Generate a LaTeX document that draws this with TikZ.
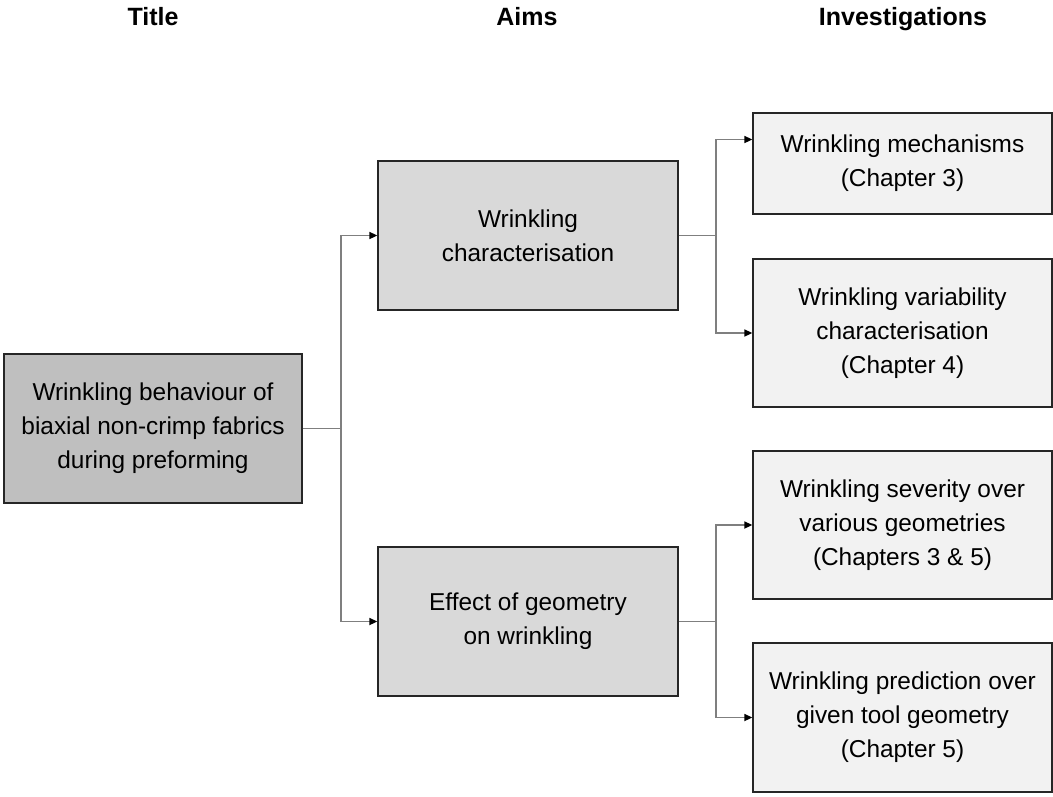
\documentclass[tikz,border=0pt]{standalone}
\usepackage{fontspec}
\setmainfont{Liberation Sans}
\usetikzlibrary{arrows.meta}
\definecolor{titlefill}{HTML}{BFBFBF}
\definecolor{aimfill}{HTML}{D9D9D9}
\definecolor{invfill}{HTML}{F2F2F2}
\definecolor{edgecol}{HTML}{262626}
\definecolor{linecol}{HTML}{7F7F7F}
\begin{document}
\begin{tikzpicture}[x=1pt,y=-1pt,
  box/.style={draw=edgecol,line width=1.3pt,inner sep=0pt,align=center,
    font=\fontsize{24.4}{34}\selectfont},
  titlebox/.style={box,fill=titlefill,minimum width=298pt,minimum height=149pt},
  aimbox/.style={box,fill=aimfill,minimum width=300pt,minimum height=149pt},
  invbox/.style={box,fill=invfill,minimum width=299pt,minimum height=148pt},
  head/.style={font=\fontsize{25}{30}\selectfont\bfseries,inner sep=0pt,anchor=base},
  conn/.style={draw=linecol,line width=1.6pt},
  arr/.style={conn,-{Triangle[length=8pt,width=7pt,fill=black,color=black]}}]
\useasboundingbox (0,0) rectangle (1053,796);
\node[head] (h1) at (153,25) {Title};
\node[head] (h2) at (527,25) {Aims};
\node[head] (h3) at (903,25) {Investigations};

\node[titlebox] (t) at (153,428.5) {Wrinkling behaviour of\\biaxial non-crimp fabrics\\during preforming};
\node[aimbox] (a1) at (528,235.5) {Wrinkling\\characterisation};
\node[aimbox] (a2) at (528,621.5) {Effect of geometry\\on wrinkling};
\node[invbox,minimum height=101pt] (i1) at (902.5,163.5) {Wrinkling mechanisms\\(Chapter 3)};
\node[invbox] (i2) at (902.5,333) {Wrinkling variability\\characterisation\\(Chapter 4)};
\node[invbox] (i3) at (902.5,525) {Wrinkling severity over\\various geometries\\(Chapters 3 \& 5)};
\node[invbox,minimum height=149pt] (i4) at (902.5,717.5) {Wrinkling prediction over\\given tool geometry\\(Chapter 5)};

\draw[conn] (t.east) -- (341,428.5) coordinate (j1);
\draw[arr] (j1) |- (a1.west);
\draw[arr] (j1) |- (a2.west);
\draw[conn] (a1.east) -- (716,235.5) coordinate (j2);
\draw[arr] (j2) |- ([yshift=24pt]i1.west);
\draw[arr] (j2) |- (i2.west);
\draw[conn] (a2.east) -- (716,621.5) coordinate (j3);
\draw[arr] (j3) |- (i3.west);
\draw[arr] (j3) |- (i4.west);
\end{tikzpicture}
\end{document}
